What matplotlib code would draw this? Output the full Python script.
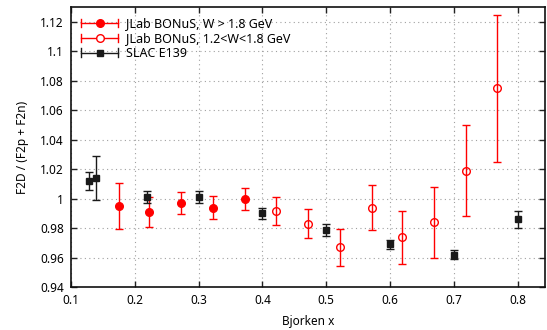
import matplotlib
matplotlib.use("Agg")
import matplotlib.pyplot as plt
from matplotlib.legend_handler import HandlerBase
from matplotlib.lines import Line2D
from matplotlib.ticker import FuncFormatter

plt.rcParams['font.family'] = ['Noto Sans', 'DejaVu Sans']

# JLab BONuS, W > 1.8 GeV
bonus_hi_x = [0.176, 0.223, 0.273, 0.322, 0.372]
bonus_hi_y = [0.995, 0.991, 0.997, 0.994, 1.000]
bonus_hi_err = [0.0155, 0.0105, 0.0076, 0.0076, 0.0076]

# JLab BONuS, 1.2 < W < 1.8 GeV
bonus_lo_x = [0.422, 0.472, 0.522, 0.572, 0.619, 0.669, 0.719, 0.767]
bonus_lo_y = [0.992, 0.983, 0.967, 0.994, 0.974, 0.984, 1.019, 1.075]
bonus_lo_err = [0.0095, 0.0098, 0.0127, 0.015, 0.018, 0.024, 0.031, 0.050]

# SLAC E139
slac_x = [0.129, 0.139, 0.22, 0.30, 0.40, 0.50, 0.60, 0.70, 0.80]
slac_y = [1.012, 1.014, 1.001, 1.001, 0.990, 0.979, 0.969, 0.962, 0.986]
slac_err = [0.006, 0.015, 0.004, 0.004, 0.004, 0.004, 0.003, 0.003, 0.006]

x_ticks = [0.1, 0.2, 0.3, 0.4, 0.5, 0.6, 0.7, 0.8]
y_ticks = [0.94, 0.96, 0.98, 1.0, 1.02, 1.04, 1.06, 1.08, 1.1, 1.12]


class HorizErrHandler(HandlerBase):
    # gnuplot-like key sample: horizontal bar with end caps and marker in middle
    def create_artists(self, legend, orig_handle, xdescent, ydescent,
                       width, height, fontsize, trans):
        y = height / 2.0 - ydescent
        x0, x1 = -xdescent, width - xdescent
        color = orig_handle.get_color()
        line = Line2D([x0, x1], [y, y], color=color, lw=1.0, transform=trans)
        cap0 = Line2D([x0, x0], [y - 3, y + 3], color=color, lw=1.0, transform=trans)
        cap1 = Line2D([x1, x1], [y - 3, y + 3], color=color, lw=1.0, transform=trans)
        mk = Line2D([(x0 + x1) / 2], [y], marker=orig_handle.get_marker(),
                    markersize=orig_handle.get_markersize(),
                    markerfacecolor=orig_handle.get_markerfacecolor(),
                    markeredgecolor=orig_handle.get_markeredgecolor(),
                    markeredgewidth=orig_handle.get_markeredgewidth(),
                    linestyle='none', transform=trans)
        return [line, cap0, cap1, mk]


fig = plt.figure(figsize=(5.47, 3.30), dpi=100)
ax = fig.add_axes([0.1294, 0.130, 0.8676, 0.848])

ax.errorbar(bonus_hi_x, bonus_hi_y, yerr=bonus_hi_err, fmt='o', color='red',
            ms=5.5, mec='red', mfc='red', ecolor='red', elinewidth=1.0,
            capsize=3, capthick=1.0, zorder=3)
ax.errorbar(bonus_lo_x, bonus_lo_y, yerr=bonus_lo_err, fmt='o', color='red',
            ms=5.5, mec='red', mfc='none', mew=1.0, ecolor='red', elinewidth=1.0,
            capsize=3, capthick=1.0, zorder=3)
ax.errorbar(slac_x, slac_y, yerr=slac_err, fmt='s', color='#1a1a1a',
            ms=4.5, mec='#1a1a1a', mfc='#1a1a1a', ecolor='#1a1a1a', elinewidth=1.0,
            capsize=3, capthick=1.0, zorder=3)

h1 = Line2D([], [], color='red', marker='o', markersize=5.5, mfc='red', mec='red')
h2 = Line2D([], [], color='red', marker='o', markersize=5.5, mfc='white', mec='red', mew=1.0)
h3 = Line2D([], [], color='#1a1a1a', marker='s', markersize=4.5, mfc='#1a1a1a', mec='#1a1a1a')
ax.legend([h1, h2, h3],
          ['JLab BONuS, W > 1.8 GeV', 'JLab BONuS, 1.2<W<1.8 GeV', 'SLAC E139'],
          handler_map={Line2D: HorizErrHandler()},
          loc='upper left', frameon=False, fontsize=9, handlelength=3.0,
          handletextpad=0.6, labelspacing=0.15, borderaxespad=0.4,
          bbox_to_anchor=(0.0, 1.0))

ax.set_xlim(0.1, 0.843)
ax.set_ylim(0.94, 1.13)
ax.set_xticks(x_ticks)
ax.set_yticks(y_ticks)
ax.xaxis.set_major_formatter(FuncFormatter(lambda v, p: '%g' % round(v, 3)))
ax.yaxis.set_major_formatter(FuncFormatter(lambda v, p: '%g' % round(v, 3)))
ax.tick_params(direction='in', top=True, right=True, length=4, width=1.0,
               labelsize=8.5, color='#222222', pad=5)
for s in ax.spines.values():
    s.set_linewidth(1.2)
    s.set_color('#111111')
ax.grid(True, linestyle=(0, (1, 3)), color='#a0a0a0', linewidth=0.8)
ax.set_axisbelow(True)

ax.set_xlabel('Bjorken x', fontsize=8.5, labelpad=6)
ax.set_ylabel('F2D / (F2p + F2n)', fontsize=8.5, labelpad=8)

fig.savefig('out.png', dpi=100)
